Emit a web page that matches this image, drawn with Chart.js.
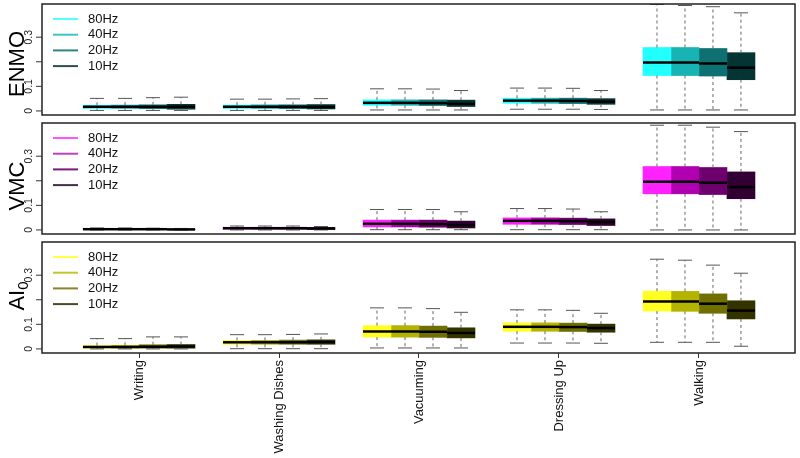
<!DOCTYPE html>
<html>
<head>
<meta charset="utf-8">
<script src="https://cdn.jsdelivr.net/npm/chart.js@4.4.1/dist/chart.umd.min.js"></script>
<style>
  html, body { margin: 0; padding: 0; background: #fff; }
  #wrap { position: relative; width: 800px; height: 458px; }
  canvas { position: absolute; left: 0; }
</style>
</head>
<body>
<div id="wrap">
  <canvas id="pEnmo" width="800" height="119" style="top:0px"></canvas>
  <canvas id="pVmc" width="800" height="119" style="top:119px"></canvas>
  <canvas id="pAi" width="800" height="220" style="top:238px"></canvas>
</div>
<script>
// categorias y frecuencias
const categories = ['Writing', 'Washing Dishes', 'Vacuuming', 'Dressing Up', 'Walking'];
const freqs = ['80Hz', '40Hz', '20Hz', '10Hz'];
const yTicks = [0, 0.1, 0.2, 0.3];
const yTickLabels = ['0', '0.1', '', '0.3'];

// cada fila: [min, q1, mediana, q3, max]
const enmo80 = [[0.002,0.010,0.017,0.023,0.051],[0.002,0.010,0.017,0.024,0.048],[0.004,0.023,0.033,0.045,0.090],[0.007,0.031,0.042,0.052,0.093],[0.004,0.144,0.197,0.258,0.433]];
const enmo40 = [[0.002,0.010,0.017,0.024,0.051],[0.002,0.010,0.017,0.025,0.048],[0.004,0.023,0.033,0.045,0.090],[0.007,0.031,0.042,0.052,0.093],[0.004,0.144,0.197,0.258,0.429]];
const enmo20 = [[0.002,0.009,0.017,0.025,0.054],[0.002,0.009,0.017,0.025,0.049],[0.004,0.022,0.032,0.045,0.089],[0.007,0.030,0.041,0.052,0.092],[0.004,0.142,0.193,0.254,0.424]];
const enmo10 = [[0.002,0.007,0.017,0.027,0.056],[0.002,0.008,0.016,0.026,0.050],[0.004,0.018,0.029,0.044,0.083],[0.006,0.027,0.038,0.050,0.083],[0.004,0.127,0.176,0.237,0.399]];

const vmc80 = [[0.000,0.002,0.003,0.005,0.008],[0.000,0.003,0.007,0.011,0.016],[0.001,0.012,0.025,0.040,0.083],[0.001,0.023,0.037,0.049,0.087],[0.000,0.147,0.196,0.258,0.426]];
const vmc40 = [[0.000,0.002,0.003,0.005,0.008],[0.000,0.003,0.007,0.011,0.016],[0.001,0.012,0.025,0.040,0.083],[0.001,0.023,0.037,0.049,0.087],[0.000,0.147,0.196,0.258,0.426]];
const vmc20 = [[0.000,0.001,0.003,0.004,0.007],[0.000,0.003,0.007,0.011,0.016],[0.001,0.011,0.024,0.040,0.083],[0.001,0.022,0.036,0.048,0.085],[0.000,0.144,0.192,0.254,0.418]];
const vmc10 = [[0.000,0.001,0.002,0.004,0.006],[0.000,0.002,0.006,0.010,0.014],[0.001,0.008,0.020,0.036,0.074],[0.001,0.018,0.032,0.045,0.074],[0.000,0.127,0.174,0.236,0.400]];

const ai80 = [[0.000,0.003,0.008,0.014,0.042],[0.001,0.019,0.027,0.035,0.058],[0.004,0.048,0.071,0.095,0.167],[0.024,0.072,0.090,0.106,0.159],[0.027,0.154,0.193,0.235,0.365]];
const ai40 = [[0.000,0.003,0.008,0.015,0.042],[0.001,0.019,0.027,0.035,0.058],[0.004,0.048,0.071,0.095,0.167],[0.024,0.072,0.090,0.106,0.159],[0.027,0.153,0.193,0.234,0.361]];
const ai20 = [[0.000,0.003,0.009,0.017,0.049],[0.001,0.019,0.027,0.036,0.059],[0.004,0.047,0.070,0.093,0.164],[0.024,0.071,0.089,0.105,0.157],[0.027,0.145,0.184,0.224,0.341]];
const ai10 = [[0.000,0.003,0.010,0.018,0.049],[0.001,0.019,0.028,0.037,0.061],[0.004,0.045,0.065,0.086,0.149],[0.023,0.068,0.085,0.101,0.145],[0.011,0.122,0.156,0.196,0.308]];

const FONT = '"Liberation Sans", Arial, Helvetica, sans-serif';

// dibuja bigotes, medianas, borde, ejes y leyenda
const boxExtras = {
  id: 'boxExtras',
  afterDatasetsDraw(chart) {
    const ctx = chart.ctx;
    const y = chart.scales.y;
    chart.data.datasets.forEach((ds, di) => {
      const meta = chart.getDatasetMeta(di);
      meta.data.forEach((bar, j) => {
        const s = ds.stats[j];
        const half = bar.width / 2;
        const px = bar.x;
        const pMin = y.getPixelForValue(s[0]);
        const pQ1 = y.getPixelForValue(s[1]);
        const pMed = y.getPixelForValue(s[2]);
        const pQ3 = y.getPixelForValue(s[3]);
        const pMax = y.getPixelForValue(s[4]);
        ctx.save();
        ctx.strokeStyle = '#666';
        ctx.lineWidth = 1;
        ctx.setLineDash([3, 3]);
        ctx.beginPath();
        ctx.moveTo(px, pQ3); ctx.lineTo(px, pMax);
        ctx.moveTo(px, pQ1); ctx.lineTo(px, pMin);
        ctx.stroke();
        ctx.setLineDash([]);
        ctx.strokeStyle = '#555';
        ctx.beginPath();
        ctx.moveTo(px - half / 2, pMax); ctx.lineTo(px + half / 2, pMax);
        ctx.moveTo(px - half / 2, pMin); ctx.lineTo(px + half / 2, pMin);
        ctx.stroke();
        ctx.strokeStyle = '#000';
        ctx.lineWidth = 2.5;
        ctx.beginPath();
        ctx.moveTo(px - half, pMed); ctx.lineTo(px + half, pMed);
        ctx.stroke();
        ctx.restore();
      });
    });
  },
  afterDraw(chart, args, opts) {
    const ctx = chart.ctx;
    const a = chart.chartArea;
    const y = chart.scales.y;
    ctx.save();
    // marco
    ctx.strokeStyle = '#222';
    ctx.lineWidth = 1.5;
    ctx.strokeRect(a.left, a.top, a.right - a.left, a.bottom - a.top);
    // marcas y etiquetas del eje y
    ctx.lineWidth = 1;
    ctx.strokeStyle = '#333';
    ctx.fillStyle = '#222';
    ctx.font = '10.5px ' + FONT;
    ctx.textAlign = 'center';
    ctx.textBaseline = 'middle';
    yTicks.forEach((v, i) => {
      const py = y.getPixelForValue(v);
      ctx.beginPath();
      ctx.moveTo(a.left - 6, py); ctx.lineTo(a.left, py);
      ctx.stroke();
      if (yTickLabels[i]) {
        ctx.save();
        ctx.translate(a.left - 13, py);
        ctx.rotate(-Math.PI / 2);
        ctx.fillText(yTickLabels[i], 0, 0);
        ctx.restore();
      }
    });
    // titulo del eje
    ctx.save();
    ctx.translate(18, a.top + opts.titleOffset);
    ctx.rotate(-Math.PI / 2);
    ctx.fillStyle = '#000';
    ctx.textBaseline = 'middle';
    ctx.font = '22px ' + FONT;
    const mainW = ctx.measureText(opts.title).width;
    let subW = 0;
    if (opts.sub) {
      ctx.font = '15px ' + FONT;
      subW = ctx.measureText(opts.sub).width;
    }
    const start = -(mainW + subW) / 2;
    ctx.font = '22px ' + FONT;
    ctx.textAlign = 'left';
    ctx.fillText(opts.title, start, 0);
    if (opts.sub) {
      ctx.font = '15px ' + FONT;
      ctx.fillText(opts.sub, start + mainW, 6);
    }
    ctx.restore();
    // leyenda
    ctx.font = '13px ' + FONT;
    ctx.textAlign = 'left';
    ctx.textBaseline = 'middle';
    chart.data.datasets.forEach((ds, k) => {
      const ly = a.top + 15 + k * 15.7;
      ctx.strokeStyle = ds.legendColor;
      ctx.lineWidth = 2;
      ctx.beginPath();
      ctx.moveTo(a.left + 11, ly); ctx.lineTo(a.left + 36, ly);
      ctx.stroke();
      ctx.fillStyle = '#111';
      ctx.fillText(ds.label, a.left + 46, ly);
    });
    ctx.restore();
  }
};

function makePanel(canvasId, series, colors, legendColors, title, sub, titleOffset, showX) {
  const datasets = series.map((stats, k) => ({
    label: freqs[k],
    data: stats.map((s, i) => ({ x: i + (k - 1.5) * 0.2, y: [s[1], s[3]] })),
    stats: stats,
    backgroundColor: colors[k],
    legendColor: legendColors[k],
    borderWidth: 0,
    barThickness: 28,
    grouped: false,
  }));
  new Chart(document.getElementById(canvasId), {
    type: 'bar',
    data: { datasets: datasets },
    options: {
      responsive: false,
      animation: false,
      devicePixelRatio: 1,
      layout: { padding: { top: 4, bottom: showX ? 0 : 4, left: 0, right: 5 } },
      plugins: {
        legend: { display: false },
        tooltip: { enabled: false },
        boxExtras: { title: title, sub: sub, titleOffset: titleOffset },
      },
      scales: {
        x: {
          type: 'linear',
          min: -0.693,
          max: 4.686,
          offset: false,
          display: showX,
          afterBuildTicks: (scale) => { scale.ticks = categories.map((c, i) => ({ value: i })); },
          afterFit: (scale) => { if (showX) scale.height = 105; },
          grid: { offset: false, drawOnChartArea: false, drawTicks: true, tickLength: 5, color: '#333' },
          border: { display: false },
          ticks: {
            autoSkip: false,
            minRotation: 90,
            maxRotation: 90,
            padding: 2,
            color: '#111',
            font: { family: FONT, size: 13 },
            callback: (v) => categories[v],
          },
        },
        y: {
          min: -0.0165,
          max: 0.435,
          afterFit: (scale) => { scale.width = 42; },
          grid: { display: false },
          border: { display: false },
          ticks: { display: false },
        },
      },
    },
    plugins: [boxExtras],
  });
}

makePanel('pEnmo', [enmo80, enmo40, enmo20, enmo10],
  ['#22ffff', '#18b3b3', '#0e7070', '#053434'],
  ['#55ffff', '#3fc4c4', '#2e8585', '#2f4f4f'],
  'ENMO', '', 60, false);
makePanel('pVmc', [vmc80, vmc40, vmc20, vmc10],
  ['#ff22ff', '#b000b0', '#6e006e', '#330033'],
  ['#ff55ff', '#c040c0', '#7a1a7a', '#4a2a4a'],
  'VMC', '', 63, false);
makePanel('pAi', [ai80, ai40, ai20, ai10],
  ['#ffff22', '#b3b300', '#707000', '#333300'],
  ['#ffff44', '#c4c430', '#858530', '#4a4a2a'],
  'AI', '0', 54, true);
</script>
</body>
</html>
